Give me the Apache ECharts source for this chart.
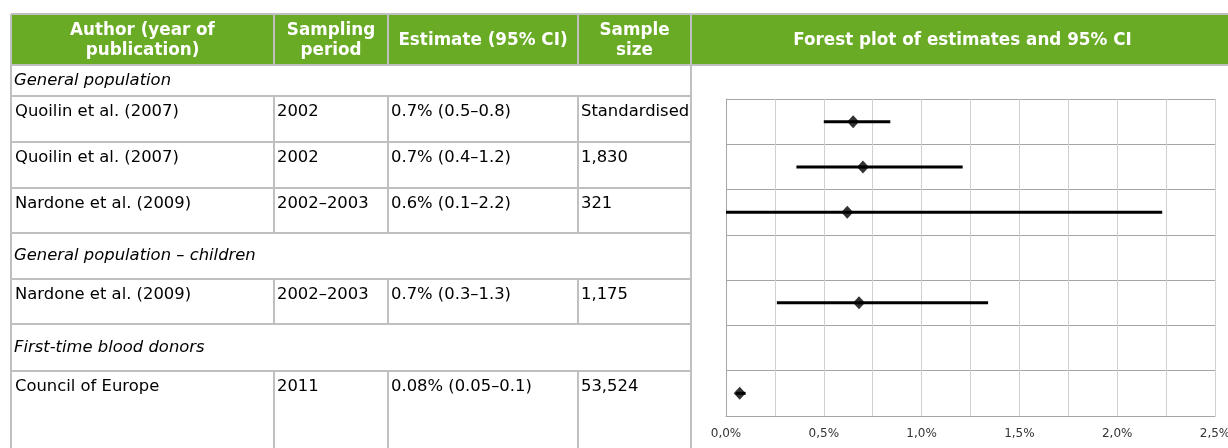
<!DOCTYPE html>
<html><head><meta charset="utf-8">
<script src="https://cdn.jsdelivr.net/npm/echarts@6/dist/echarts.min.js"></script>
<style>html,body{margin:0;padding:0;background:#fff}#c{width:1228px;height:448px}</style>
</head><body><div id="c"></div>
<script>
// ---- table content ----
const headerLabels = ['Author (year of\npublication)', 'Sampling\nperiod', 'Estimate (95% CI)', 'Sample\nsize', 'Forest plot of estimates and 95% CI'];
const rowKinds = ['group', 'study', 'study', 'study', 'group', 'study', 'group', 'study'];
const groupLabels = ['General population', 'General population – children', 'First-time blood donors'];
const authors = ['Quoilin et al. (2007)', 'Quoilin et al. (2007)', 'Nardone et al. (2009)', 'Nardone et al. (2009)', 'Council of Europe'];
const periods = ['2002', '2002', '2002–2003', '2002–2003', '2011'];
const estimateLabels = ['0.7% (0.5–0.8)', '0.7% (0.4–1.2)', '0.6% (0.1–2.2)', '0.7% (0.3–1.3)', '0.08% (0.05–0.1)'];
const sampleSizes = ['Standardised', '1,830', '321', '1,175', '53,524'];

// ---- forest plot data ----
const plotRows = ['Quoilin et al. (2007) – standardised', 'Quoilin et al. (2007)', 'Nardone et al. (2009)', 'General population – children', 'Nardone et al. (2009) – children', 'First-time blood donors', 'Council of Europe'];
const pointEstimates = [0.65, 0.70, 0.62, null, 0.68, null, 0.07];
const ciLower = [0.50, 0.36, 0.00, null, 0.26, null, 0.05];
const ciUpper = [0.84, 1.21, 2.23, null, 1.34, null, 0.10];
const xMin = 0, xMax = 2.5, xInterval = 0.25;

// ---- layout ----
const colX = [11, 274, 388, 578, 691, 1228];
const headTop = 14, headBottom = 65;
const rowTops = [65, 96, 142, 188, 233, 279, 324, 371, 448];
const green = '#69ab24', border = '#c0c0c0';
const bodyFont = '16.4px "DejaVu Sans"';
const headFont = 'bold 16.8px "DejaVu Sans"';

const graphics = [];
graphics.push({type: 'rect', shape: {x: colX[0], y: headTop, width: 1228 - colX[0], height: headBottom - headTop}, style: {fill: green}, silent: true});
function hline(y, x1, x2) { graphics.push({type: 'line', shape: {x1, y1: y, x2, y2: y}, style: {stroke: border, lineWidth: 2}, silent: true}); }
function vline(x, y1, y2) { graphics.push({type: 'line', shape: {x1: x, y1, x2: x, y2}, style: {stroke: border, lineWidth: 2}, silent: true}); }
function txt(text, x, y, font, fill, align) { graphics.push({type: 'text', style: {text, x, y, font, fill, align: align || 'left', verticalAlign: 'middle', lineHeight: 20}, silent: true}); }

hline(headTop, colX[0], 1228);
hline(headBottom, colX[0], 1228);
vline(colX[0], headTop, 448);
vline(colX[4], headTop, 448);
for (let i = 1; i < 4; i++) vline(colX[i], headTop, headBottom);
for (let i = 0; i < 5; i++) txt(headerLabels[i], (colX[i] + colX[i + 1]) / 2 + (i === 4 ? 3 : 0), (headTop + headBottom) / 2 + 1, headFont, '#fff', 'center');

let gi = 0, si = 0;
rowKinds.forEach((kind, r) => {
  const top = rowTops[r], bot = rowTops[r + 1];
  if (r > 0) hline(top, colX[0], colX[4]);
  if (kind === 'group') {
    txt(groupLabels[gi++], colX[0] + 3, (top + bot) / 2, 'italic ' + bodyFont, '#000');
  } else {
    for (let i = 1; i < 4; i++) vline(colX[i], top, bot);
    const y = top + 16;
    txt(authors[si], colX[0] + 4, y, bodyFont, '#000');
    txt(periods[si], colX[1] + 3, y, bodyFont, '#000');
    txt(estimateLabels[si], colX[2] + 3, y, bodyFont, '#000');
    txt(sampleSizes[si], colX[3] + 3, y, bodyFont, '#000');
    si++;
  }
});

const ciData = [], ptData = [];
plotRows.forEach((_, i) => {
  if (ciLower[i] != null) ciData.push([ciLower[i], ciUpper[i], i]);
  if (pointEstimates[i] != null) ptData.push([pointEstimates[i], i]);
});

const chart = echarts.init(document.getElementById('c'), null, {renderer: 'canvas'});
chart.setOption({
  animation: false,
  backgroundColor: '#fff',
  grid: {left: 726, right: 13, top: 99, bottom: 32, containLabel: false, outerBoundsMode: 'none'},
  xAxis: {
    type: 'value', min: xMin, max: xMax, interval: xInterval,
    axisLine: {show: true, lineStyle: {color: '#a6a6a6', width: 1}},
    axisTick: {show: false},
    splitLine: {show: true, lineStyle: {color: '#d0d0d0', width: 1}},
    axisLabel: {
      margin: 12, color: '#333', fontSize: 12, fontFamily: 'DejaVu Sans',
      formatter: v => (Math.round(v * 100) % 50 === 0) ? v.toFixed(1).replace('.', ',') + '%' : ''
    }
  },
  yAxis: {
    type: 'category', data: plotRows, inverse: true,
    axisLine: {show: true, lineStyle: {color: '#a6a6a6', width: 1}},
    axisTick: {show: false},
    axisLabel: {show: false},
    splitLine: {show: true, lineStyle: {color: '#a6a6a6', width: 1}}
  },
  graphic: graphics,
  series: [
    {
      type: 'custom', data: ciData, encode: {x: [0, 1], y: 2}, z: 3,
      renderItem: (params, api) => {
        const p1 = api.coord([api.value(0), api.value(2)]);
        const p2 = api.coord([api.value(1), api.value(2)]);
        return {type: 'line', shape: {x1: p1[0], y1: p1[1], x2: p2[0], y2: p2[1]}, style: {stroke: '#000', lineWidth: 3}};
      }
    },
    {
      type: 'scatter', data: ptData, symbol: 'diamond', symbolSize: [12, 13], z: 4,
      itemStyle: {color: '#000'}
    }
  ]
});
</script></body></html>
